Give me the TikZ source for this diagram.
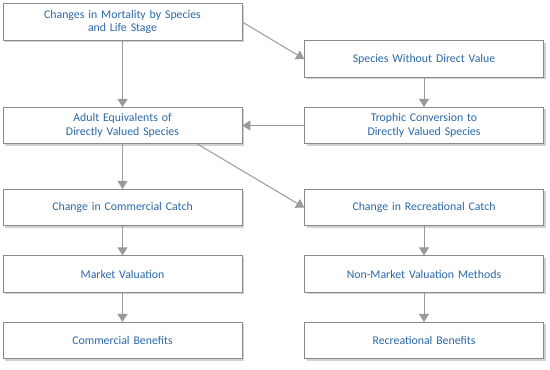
\documentclass[tikz,border=0pt]{standalone}
\usepackage{fontspec}
\setmainfont{Carlito}
\usetikzlibrary{arrows.meta,shadows}
\definecolor{txtblue}{HTML}{2B68A8}
\definecolor{boxline}{HTML}{8A8A8A}
\definecolor{arrgray}{HTML}{9A9A9A}
\begin{document}
\begin{tikzpicture}[x=1pt,y=-1pt,
  fbox/.style={draw=boxline,line width=0.6pt,fill=white,minimum width=239pt,minimum height=36.5pt,
    text width=230pt,align=center,text=txtblue,font=\fontsize{11.8}{13.5}\selectfont,inner sep=0pt,
    drop shadow={shadow xshift=2pt,shadow yshift=-2pt,fill=black!18,opacity=1}},
  arr/.style={draw=arrgray,line width=1pt,-{Triangle[width=10pt,length=8pt]}}]
\useasboundingbox (0,0) rectangle (550,370);
\node[fbox] (mort) at (122.5,22) {Changes in Mortality by Species\\and Life Stage};
\node[fbox] (adult) at (122.5,125.5) {Adult Equivalents of\\Directly Valued Species};
\node[fbox] (without) at (424,59) {Species Without Direct Value};
\node[fbox] (troph) at (424,125.5) {Trophic Conversion to\\Directly Valued Species};
\node[fbox] (comc) at (122.5,207.5) {Change in Commercial Catch};
\node[fbox] (mkt) at (122.5,274) {Market Valuation};
\node[fbox] (comb) at (122.5,340.5) {Commercial Benefits};
\node[fbox] (recc) at (424,207.5) {Change in Recreational Catch};
\node[fbox] (nonm) at (424,274) {Non-Market Valuation Methods};
\node[fbox] (recb) at (424,340.5) {Recreational Benefits};
\coordinate (mortE) at (mort.east);
\coordinate (adultS) at ([xshift=75pt]adult.south);
\draw[arr] (mort) -- (adult);
\draw[arr] (mortE) -- (without.west);
\draw[arr] (without) -- (troph);
\draw[arr] (troph) -- (adult);
\draw[arr] (adult) -- (comc);
\draw[arr] (adultS) -- (recc.west);
\draw[arr] (comc) -- (mkt);
\draw[arr] (mkt) -- (comb);
\draw[arr] (recc) -- (nonm);
\draw[arr] (nonm) -- (recb);
\end{tikzpicture}
\end{document}
